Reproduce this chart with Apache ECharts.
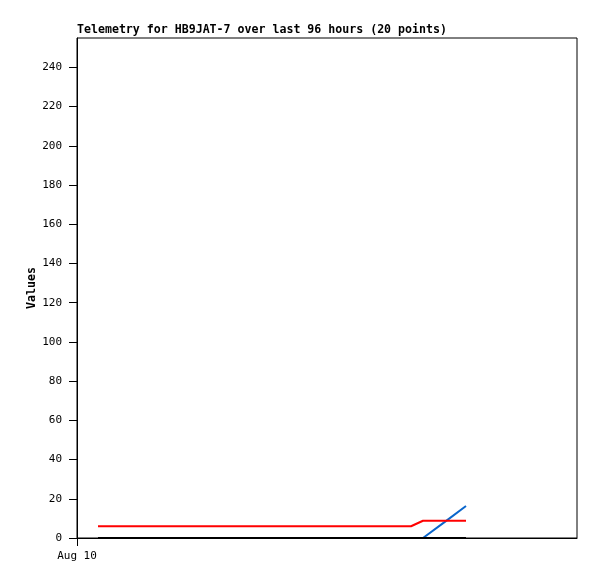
<!DOCTYPE html>
<html>
<head>
<meta charset="utf-8">
<script src="https://cdn.jsdelivr.net/npm/echarts@6/dist/echarts.min.js"></script>
<style>html,body{margin:0;padding:0;background:#fff;}#c{width:597px;height:579px;}</style>
</head>
<body>
<div id="c"></div>
<script>
// hours since Aug 10 00:00
const hours = [4.2, 8.1, 12.0, 15.9, 19.9, 23.8, 27.7, 31.6, 35.5, 39.4, 43.3, 47.2, 51.2, 55.1, 59.0, 62.9, 66.8, 69.2, 73.5, 77.8];
const seriesBlack = [0,0,0,0,0,0,0,0,0,0,0,0,0,0,0,0,0,0,0,0];
const seriesRed = [6,6,6,6,6,6,6,6,6,6,6,6,6,6,6,6,6,8.8,8.8,8.8];
const seriesBlue = [0,0,0,0,0,0,0,0,0,0,0,0,0,0,0,0,0,0,8.1,16.3];
const xTickLabel = 'Aug 10';
const titleText = 'Telemetry for HB9JAT-7 over last 96 hours (20 points)';
const yName = 'Values';

const pairs = arr => hours.map((h, i) => [h, arr[i]]);
const font = '"DejaVu Sans Mono", "Liberation Mono", monospace';
const chart = echarts.init(document.getElementById('c'), null, {renderer: 'canvas'});
const lineSeries = (data, color) => ({
  type: 'line', data: pairs(data), showSymbol: false, symbol: 'none',
  lineStyle: {color: color, width: 2}, itemStyle: {color: color}, animation: false
});
chart.setOption({
  animation: false,
  title: {text: titleText, left: 72, top: 19, textStyle: {fontFamily: font, fontSize: 11.6, fontWeight: 'bold', color: '#000'}},
  grid: {left: 77, right: 20, top: 38, bottom: 41, show: true, borderColor: '#000', borderWidth: 1, backgroundColor: '#fff'},
  xAxis: {
    type: 'value', min: 0, max: 100, interval: 100,
    axisLine: {lineStyle: {color: '#000', width: 1}},
    axisTick: {show: true, length: 8, lineStyle: {color: '#000'}},
    splitLine: {show: false},
    axisLabel: {showMaxLabel: false, margin: 13, color: '#000', fontFamily: font, fontSize: 11,
      formatter: v => v === 0 ? xTickLabel : ''}
  },
  yAxis: {
    type: 'value', min: 0, max: 255, interval: 20,
    name: yName, nameLocation: 'middle', nameGap: 39, nameMoveOverlap: false,
    nameTextStyle: {fontFamily: font, fontSize: 11.6, fontWeight: 'bold', color: '#000'},
    axisLine: {show: true, lineStyle: {color: '#000', width: 1}},
    axisTick: {show: true, length: 8, lineStyle: {color: '#000'}},
    splitLine: {show: false},
    axisLabel: {showMaxLabel: false, margin: 15, color: '#000', fontFamily: font, fontSize: 11}
  },
  series: [
    lineSeries(seriesBlue, '#0a66cc'),
    lineSeries(seriesRed, '#ff0000'),
    lineSeries(seriesBlack, '#000000')
  ]
});
</script>
</body>
</html>
